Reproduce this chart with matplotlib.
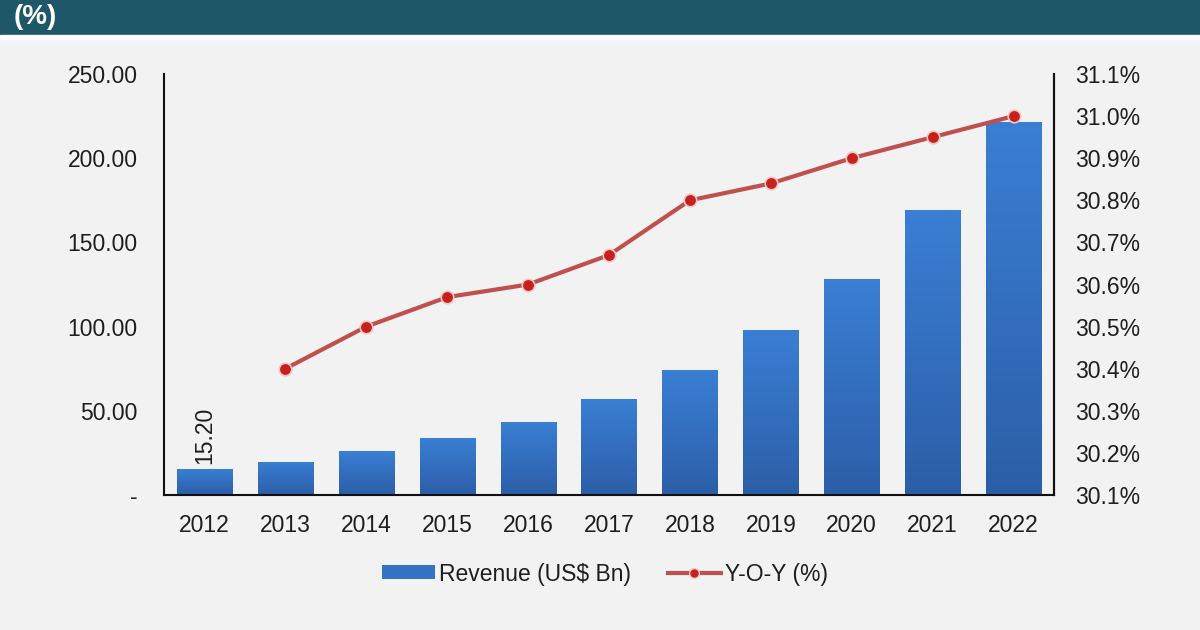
import matplotlib
matplotlib.use("Agg")
import matplotlib.pyplot as plt
import numpy as np
from matplotlib.colors import LinearSegmentedColormap
from matplotlib.lines import Line2D
from matplotlib.patches import Patch

years = ["2012", "2013", "2014", "2015", "2016", "2017", "2018", "2019", "2020", "2021", "2022"]
revenue = [15.2, 19.8, 25.9, 33.8, 43.5, 57.2, 74.5, 98.0, 128.5, 169.0, 221.5]
yoy_years = ["2013", "2014", "2015", "2016", "2017", "2018", "2019", "2020", "2021", "2022"]
yoy = [30.40, 30.50, 30.57, 30.60, 30.67, 30.80, 30.84, 30.90, 30.95, 31.00]
left_ticks = [0, 50, 100, 150, 200, 250]
left_labels = ["-", "50.00", "100.00", "150.00", "200.00", "250.00"]
right_ticks = [30.1, 30.2, 30.3, 30.4, 30.5, 30.6, 30.7, 30.8, 30.9, 31.0, 31.1]

plt.rcParams['font.family'] = ['Liberation Sans', 'DejaVu Sans']

BG = "#f2f2f2"
TXT = "#1e1e1e"
FS = 16.5
fig = plt.figure(figsize=(12, 6.3), dpi=100, facecolor=BG)

# header banner
fig.patches.append(plt.Rectangle((0, 1 - 35 / 630), 1, 35 / 630, transform=fig.transFigure,
                                 color="#1e5767", zorder=0))
fig.patches.append(plt.Rectangle((0, 1 - 39 / 630), 1, 4 / 630, transform=fig.transFigure,
                                 color="white", zorder=0))
fig.text(14 / 1200, 1 - 17 / 630, "(%)", color="white", fontsize=20, fontweight="bold",
         va="center", ha="left")

ax = fig.add_axes([164 / 1200, 1 - 495 / 630, (1054 - 164) / 1200, (495 - 74) / 630])
ax.set_facecolor(BG)
x = np.arange(len(years))
bars = ax.bar(x, revenue, width=0.68, color="#3472c4", zorder=2)

cmap = LinearSegmentedColormap.from_list("g", ["#2c5ea8", "#3a7fd4"])
grad = np.linspace(0, 1, 256).reshape(-1, 1)
for b in bars:
    x0, w, h = b.get_x(), b.get_width(), b.get_height()
    im = ax.imshow(grad, extent=[x0, x0 + w, 0, h], origin="lower", cmap=cmap,
                   aspect="auto", zorder=2.1)
    im.set_clip_path(b)

ax.set_xlim(-0.5, len(years) - 0.5)
ax.set_ylim(0, 250)
ax.set_xticks(x)
ax.set_xticklabels(years, fontsize=FS, color=TXT)
ax.set_yticks(left_ticks)
ax.set_yticklabels(left_labels, fontsize=FS, color=TXT)
ax.tick_params(axis="both", length=0)
ax.tick_params(axis="x", pad=14)
ax.tick_params(axis="y", pad=19)
ax.spines["top"].set_visible(False)
for s in ["left", "bottom", "right"]:
    ax.spines[s].set_color("#111111")
    ax.spines[s].set_linewidth(1.5)

ax.text(x[0], revenue[0] + 3.5, f"{revenue[0]:.2f}", rotation=90, ha="center", va="bottom",
        fontsize=FS, color=TXT)

ax2 = ax.twinx()
ax2.set_ylim(30.1, 31.1)
xi = [years.index(y) for y in yoy_years]
ax2.plot(xi, yoy, color="#c0504d", lw=3, marker="o", markersize=9,
         markerfacecolor="#c8201d", markeredgecolor="#f0c8c4", markeredgewidth=1.2, zorder=3)
ax2.set_yticks(right_ticks)
ax2.set_yticklabels([f"{v:.1f}%" for v in right_ticks], fontsize=FS, color=TXT)
ax2.tick_params(axis="y", length=0, pad=15)
for s in ["top", "left", "bottom"]:
    ax2.spines[s].set_visible(False)
ax2.spines["right"].set_color("#111111")
ax2.spines["right"].set_linewidth(1.5)

handles = [Patch(facecolor="#3472c4", edgecolor="none"),
           Line2D([0], [0], color="#c0504d", lw=3, marker="o", markersize=7,
                  markerfacecolor="#c8201d", markeredgecolor="#f0c8c4")]
fig.legend(handles, ["Revenue (US$ Bn)", "Y-O-Y (%)"], loc="center",
           bbox_to_anchor=(605 / 1200, 1 - 574 / 630), ncol=2, frameon=False,
           fontsize=FS, handlelength=2.3, handleheight=0.55, columnspacing=1.6,
           handletextpad=0.2, labelcolor=TXT)

fig.savefig("out.png", dpi=100, facecolor=BG)
